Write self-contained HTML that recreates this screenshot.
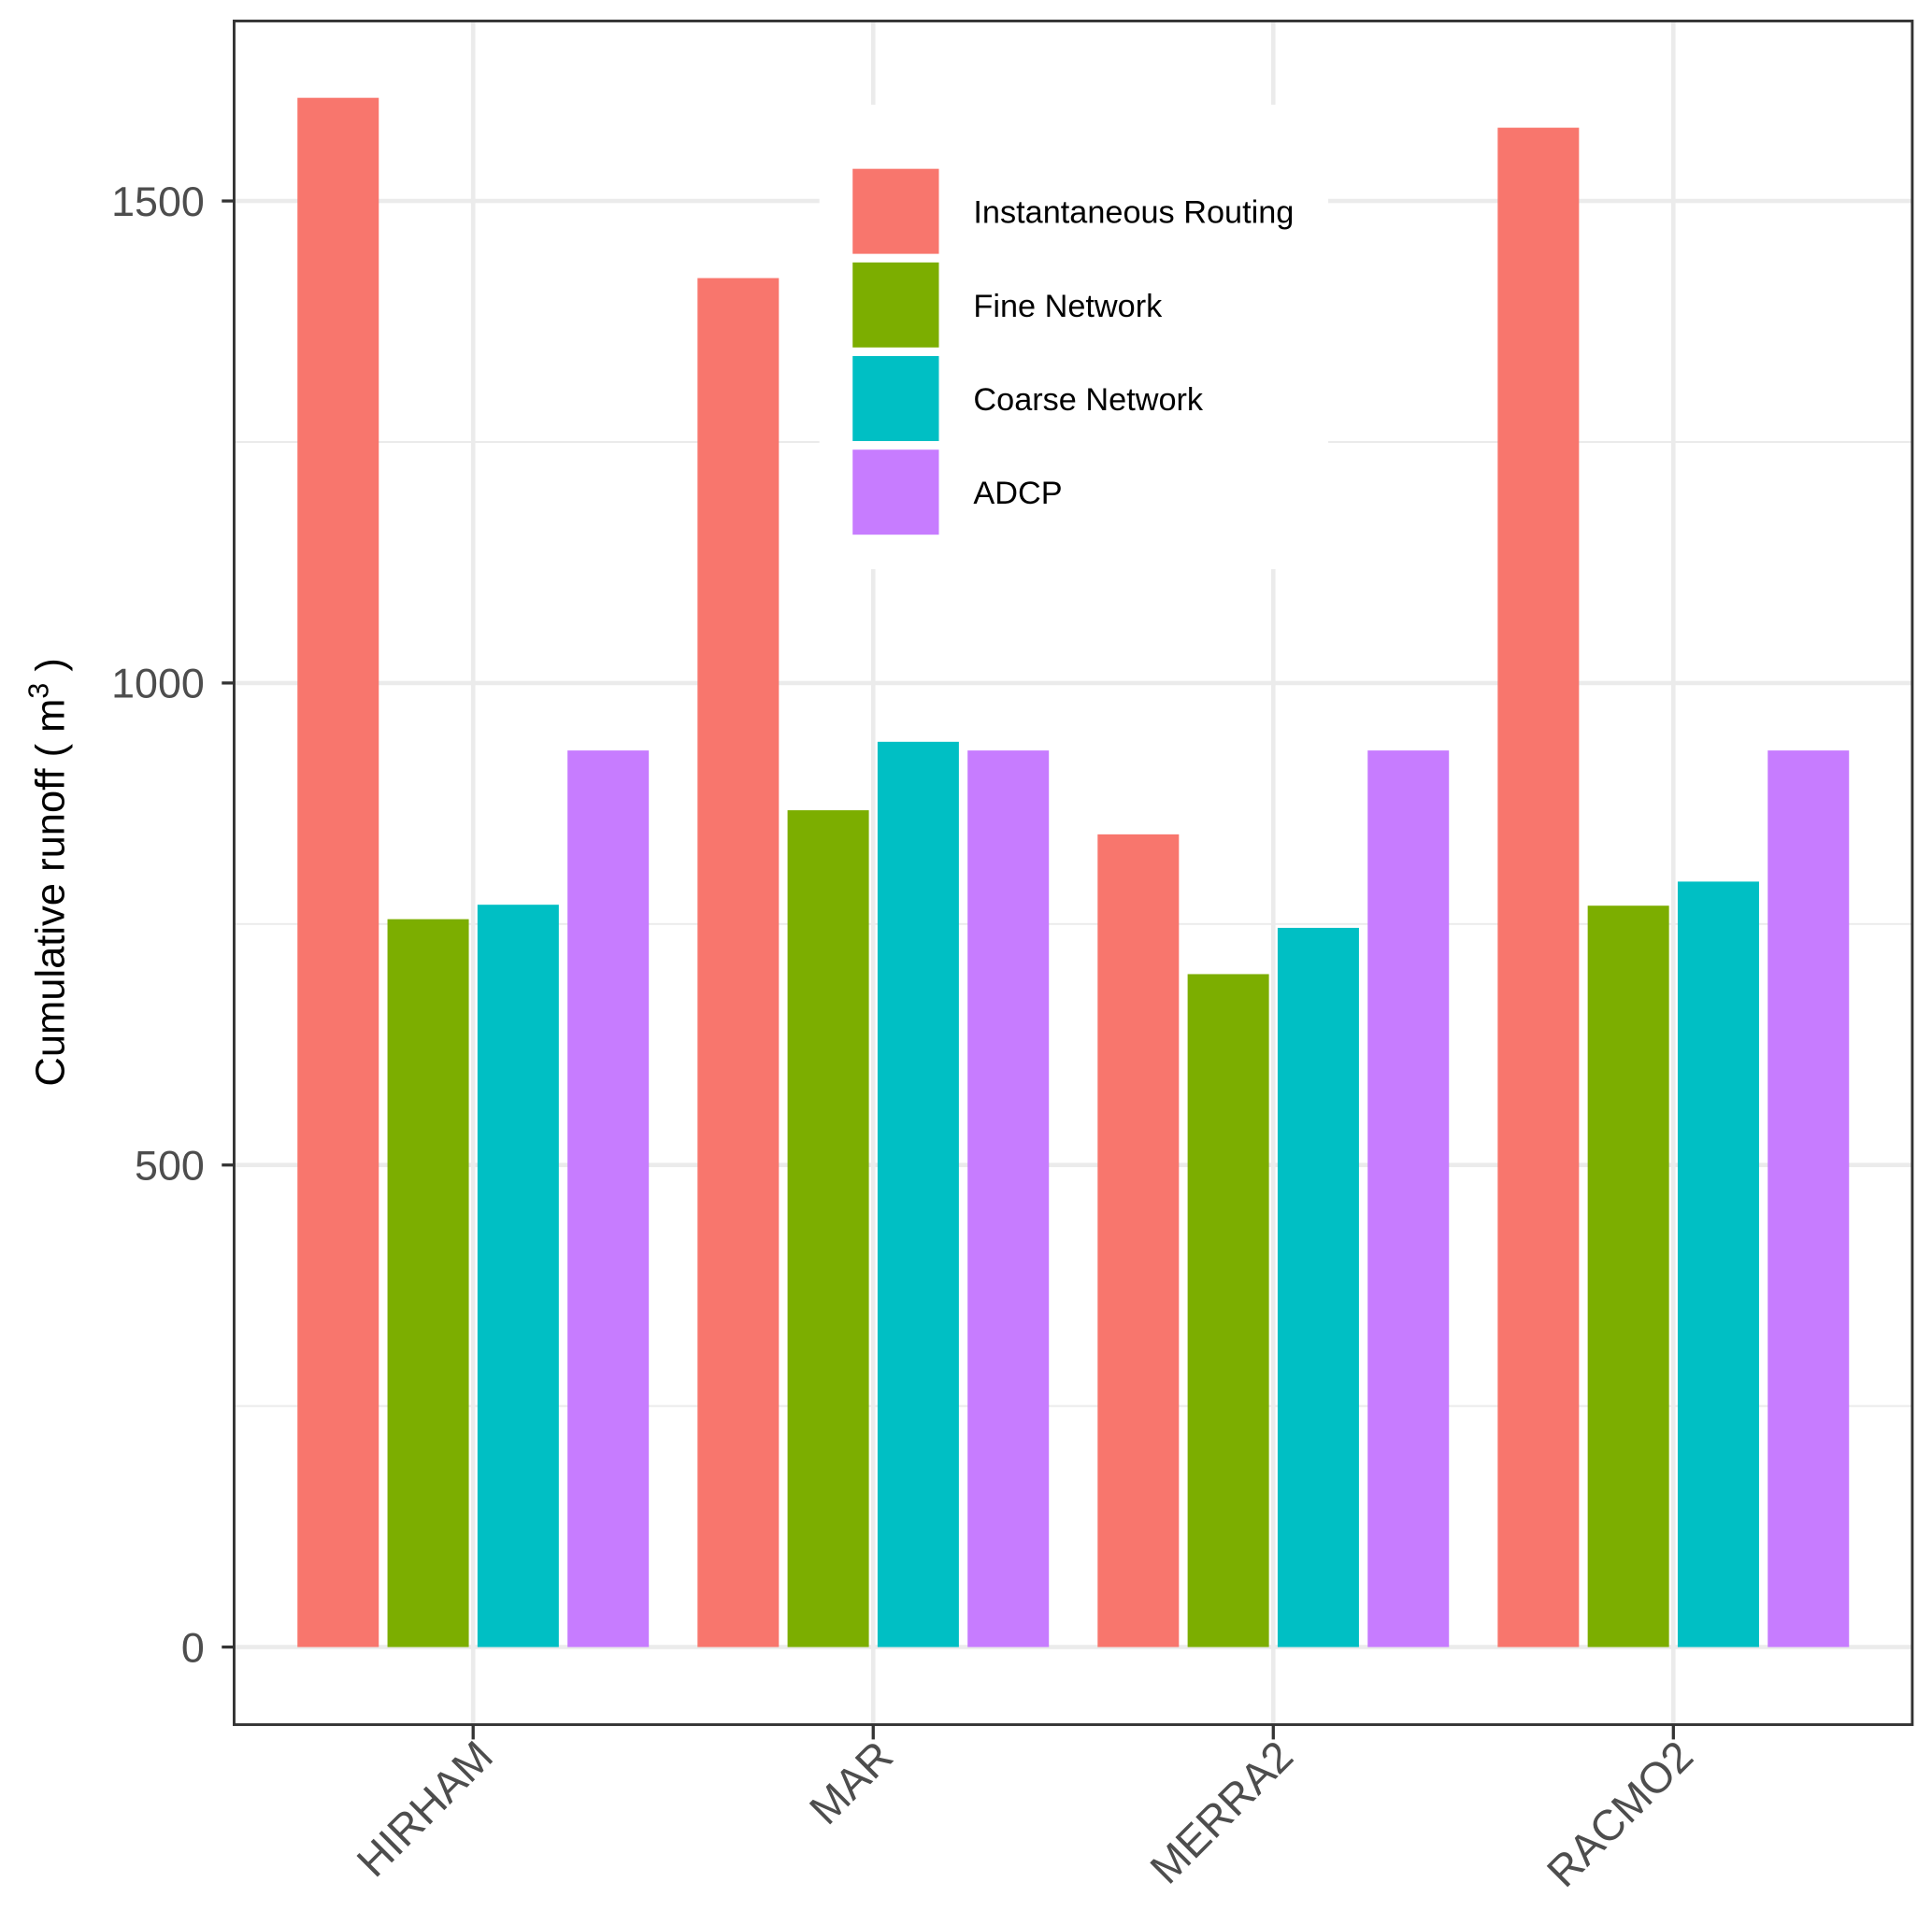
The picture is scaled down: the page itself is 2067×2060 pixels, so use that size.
<!DOCTYPE html>
<html><head><meta charset="utf-8"><style>
html,body{margin:0;padding:0;background:#fff;}
svg{display:block;font-family:"Liberation Sans",Arial,sans-serif;}
</style></head><body>
<svg id="chart" width="2067" height="2060" viewBox="0 0 1568 1562.6" xmlns="http://www.w3.org/2000/svg">
<g id="grid"></g><g id="bars"></g><g id="axes"></g><g id="legend"></g>
</svg>
<script>
const categories = ["HIRHAM","MAR","MERRA2","RACMO2"];
const seriesNames = ["Instantaneous Routing","Fine Network","Coarse Network","ADCP"];
const seriesColors = ["#F8766D","#7CAE00","#00BFC4","#C77CFF"];
const instantaneous = [1607,1420,843,1576];
const fine = [755,868,698,769];
const coarse = [770,939,746,794];
const adcp = [930,930,930,930];
const yTicks = [0,500,1000,1500];
const yMinor = [250,750,1250];
const series = [instantaneous, fine, coarse, adcp];

const NS="http://www.w3.org/2000/svg";
const L=190,R=1552,T=17,B=1400;
const y0px=1337, pxPer=391.3/500;
function yS(v){return y0px - v*pxPer;}
const step=324.7, x0=384;
function xS(i){return x0+i*step;}
function mk(tag,attrs,parent){const e=document.createElementNS(NS,tag);for(const k in attrs)e.setAttribute(k,attrs[k]);parent.appendChild(e);return e;}
const grid=document.getElementById('grid'),bars=document.getElementById('bars'),axes=document.getElementById('axes'),legend=document.getElementById('legend');
mk('rect',{x:L,y:T,width:R-L,height:B-T,fill:'#fff'},grid);
yMinor.forEach(v=>{const l=mk('line',{x1:L,x2:R,y1:yS(v),y2:yS(v),stroke:'#ebebeb','stroke-width':1.5},grid);

});
yTicks.forEach(v=>{const l=mk('line',{x1:L,x2:R,y1:yS(v),y2:yS(v),stroke:'#ebebeb','stroke-width':3.5},grid);

});
categories.forEach((c,i)=>{const l=mk('line',{x1:xS(i),x2:xS(i),y1:T,y2:B,stroke:'#ebebeb','stroke-width':3.5},grid);

});
const slot=step*0.9/4, bw=66;
categories.forEach((c,i)=>{
  series.forEach((s,j)=>{
    const cx=xS(i)-step*0.45+slot*(j+0.5);
    const r=mk('rect',{x:cx-bw/2,y:yS(s[i]),width:bw,height:yS(0)-yS(s[i]),fill:seriesColors[j]},bars);
    
    
  });
});
mk('rect',{x:L,y:T,width:R-L,height:B-T,fill:'none',stroke:'#333','stroke-width':2.2},axes);
yTicks.forEach(v=>{
  mk('line',{x1:L-10,x2:L,y1:yS(v),y2:yS(v),stroke:'#333','stroke-width':2.5},axes);
  const t=mk('text',{x:L-24,y:yS(v)+12,'text-anchor':'end','font-size':34,fill:'#4d4d4d'},axes);
  t.textContent=v;
  
  
});
categories.forEach((c,i)=>{
  mk('line',{x1:xS(i),x2:xS(i),y1:B,y2:B+12,stroke:'#333','stroke-width':2.5},axes);
  const ax=xS(i)+18, ay=B+28;
  const t=mk('text',{x:ax,y:ay,'text-anchor':'end','font-size':35,fill:'#4d4d4d',transform:'rotate(-45 '+ax+' '+ay+')'},axes);
  t.textContent=c;
  
  
});
const yt=mk('text',{x:0,y:0,'text-anchor':'middle','font-size':33,fill:'#000',transform:'translate(52 708) rotate(-90)'},axes);
yt.innerHTML='Cumulative runoff ( m<tspan dy="-13" font-size="23">3</tspan><tspan dy="13"> )</tspan>';


mk('rect',{x:665,y:85,width:413,height:377,fill:'#fff'},legend);
seriesNames.forEach((n,j)=>{
  const k=mk('rect',{x:692,y:137+j*76,width:70,height:69,fill:seriesColors[j]},legend);
  
  
  const t=mk('text',{x:790,y:181+j*76,'font-size':26,fill:'#000'},legend);
  t.textContent=n;
  
  
});
</script>
</body></html>
